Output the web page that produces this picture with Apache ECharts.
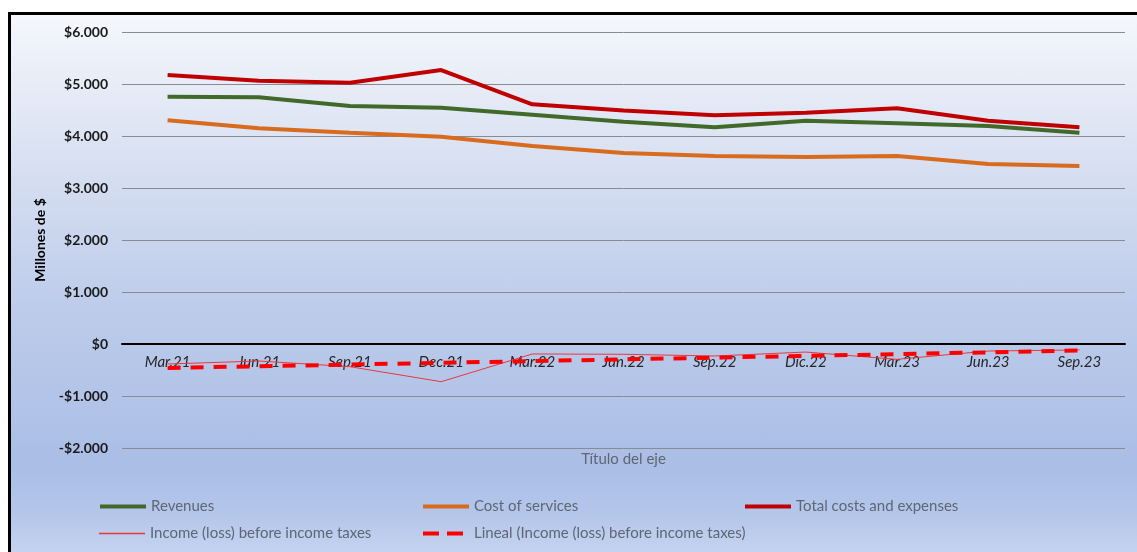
<!DOCTYPE html>
<html>
<head>
<meta charset="utf-8">
<script src="https://cdn.jsdelivr.net/npm/echarts@6/dist/echarts.min.js"></script>
<style>
  html, body { margin: 0; padding: 0; background: #ffffff; width: 1137px; height: 552px; overflow: hidden; }
  #frame { position: absolute; left: 8px; top: 12px; width: 1140px; height: 545px; border: 3px solid #000;
    background: linear-gradient(to bottom, #f5f7fc 0px, #dde4f3 120px, #bccbea 300px, #aabee6 450px, #b4c6ea 500px, #c6d4f0 540px); }
  #chart { position: absolute; left: 0; top: 0; width: 1137px; height: 552px; }
</style>
</head>
<body>
<div id="frame"></div>
<div id="chart"></div>
<script>
const categories = ['Mar.21','Jun.21','Sep.21','Dec.21','Mar.22','Jun.22','Sep.22','Dic.22','Mar.23','Jun.23','Sep.23'];
const revenues = [4756, 4744, 4577, 4545, 4410, 4276, 4167, 4295, 4244, 4192, 4064];
const costOfServices = [4301, 4147, 4064, 3987, 3808, 3673, 3615, 3596, 3615, 3462, 3423];
const totalCosts = [5173, 5063, 5025, 5269, 4610, 4490, 4398, 4448, 4533, 4295, 4167];
const incomeBeforeTaxes = [-385, -327, -436, -725, -192, -198, -231, -155, -295, -135, -115];
const linealIncome = [-460, -428, -395, -362, -328, -295, -262, -228, -195, -160, -125];
const yTicks = { min: -2000, max: 6000, interval: 1000 };

function fmtMoney(v) {
  const neg = v < 0;
  const s = Math.abs(v).toString().replace(/\B(?=(\d{3})+(?!\d))/g, '.');
  return (neg ? '-' : '') + '$' + s;
}

const chart = echarts.init(document.getElementById('chart'), null, { renderer: 'canvas' });
const legendText = { color: '#5f6674', fontSize: 15, fontFamily: 'Lato' };
function mkLegend(name, left, top, lineStyle) {
  return { data: [name], left: left, top: top, itemWidth: 46, itemHeight: 12, padding: 0,
    textStyle: legendText, selectedMode: false, itemStyle: { opacity: 0 }, lineStyle: lineStyle };
}
const incomeLegend = { data: [{ name: 'Income (loss) before income taxes', icon: 'rect',
    itemStyle: { color: '#e8383c', borderWidth: 0, opacity: 1 } }],
  left: 99, top: 526, itemWidth: 46, itemHeight: 1.5, padding: 0,
  textStyle: legendText, selectedMode: false };
chart.setOption({
  backgroundColor: 'transparent',
  animation: false,
  grid: { left: 122, right: 12, top: 32, bottom: 104, containLabel: false, outerBoundsMode: 'none' },
  xAxis: {
    type: 'category', data: categories, boundaryGap: true,
    offset: -104,
    axisLine: { onZero: false, lineStyle: { color: '#000', width: 2 } },
    axisTick: { show: false },
    axisLabel: { color: '#262626', fontStyle: 'italic', fontSize: 15, fontFamily: 'Lato', margin: 11 },
    name: 'Título del eje', nameLocation: 'middle', nameGap: 108,
    nameTextStyle: { color: '#5f6674', fontSize: 15, fontFamily: 'Lato' }
  },
  yAxis: {
    type: 'value', min: yTicks.min, max: yTicks.max, interval: yTicks.interval,
    axisLine: { show: false }, axisTick: { show: false },
    splitLine: { lineStyle: { color: '#878b94', width: 1 } },
    axisLabel: { formatter: fmtMoney, color: '#1a1a1a', fontWeight: 'bold', fontSize: 14, fontFamily: 'Lato', margin: 14 },
    name: 'Millones de $', nameLocation: 'middle', nameGap: 73, nameRotate: 90,
    nameTextStyle: { color: '#000', fontWeight: 'bold', fontSize: 14, fontFamily: 'Lato' }
  },
  legend: [
    mkLegend('Revenues', 98, 499, { width: 4, color: '#41692a' }),
    mkLegend('Cost of services', 421, 499, { width: 4, color: '#d86b1e' }),
    mkLegend('Total costs and expenses', 743, 499, { width: 4, color: '#c00000' }),
    incomeLegend,
    mkLegend('Lineal (Income (loss) before income taxes)', 421, 526, { width: 4, color: '#ff0000', type: [16, 8] })
  ],
  series: [
    { name: 'Revenues', type: 'line', data: revenues, showSymbol: false, symbol: 'none',
      lineStyle: { color: '#41692a', width: 4 }, itemStyle: { color: '#41692a' } },
    { name: 'Cost of services', type: 'line', data: costOfServices, showSymbol: false, symbol: 'none',
      lineStyle: { color: '#d86b1e', width: 4 }, itemStyle: { color: '#d86b1e' } },
    { name: 'Total costs and expenses', type: 'line', data: totalCosts, showSymbol: false, symbol: 'none',
      lineStyle: { color: '#c00000', width: 4 }, itemStyle: { color: '#c00000' } },
    { name: 'Income (loss) before income taxes', type: 'line', data: incomeBeforeTaxes, showSymbol: false, symbol: 'none',
      lineStyle: { color: '#e8383c', width: 1 }, itemStyle: { color: '#e8383c' } },
    { name: 'Lineal (Income (loss) before income taxes)', type: 'line', data: linealIncome, showSymbol: false, symbol: 'none',
      lineStyle: { color: '#ff0000', width: 4, type: [13, 10] }, itemStyle: { color: '#ff0000' } }
  ]
});
</script>
</body>
</html>
